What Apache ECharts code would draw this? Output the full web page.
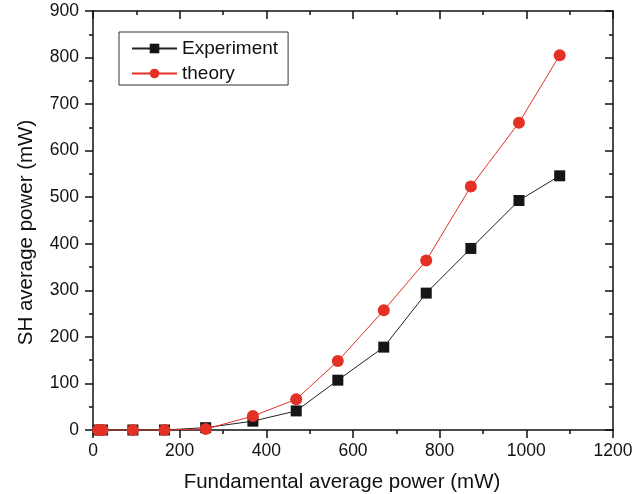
<!DOCTYPE html>
<html>
<head>
<meta charset="utf-8">
<script src="https://cdn.jsdelivr.net/npm/echarts@6/dist/echarts.min.js"></script>
<style>
html,body{margin:0;padding:0;background:#fff}
#chart{width:644px;height:494px}
</style>
</head>
<body>
<div id="chart"></div>
<script>
var powerIn = [12, 22, 92, 165, 260, 369, 469, 565, 671, 769, 872, 983, 1077]
var experiment = [0, 0, 0, 0, 5, 19, 41, 107, 178, 294, 390, 493, 546]
var theory = [0, 0, 0, 0, 2, 30, 66, 148, 257, 364, 523, 660, 805]
var fnt = 'Liberation Sans, Arial, sans-serif'

function pairs(xs, ys){
    var out = []
    for(var i = 0; i < xs.length; i++){
        out.push([xs[i], ys[i]])
    }
    return out
}

var chart = echarts.init(document.getElementById('chart'))

function axisBase(pos, inside, labels){
    return {
        type:'value',
        position:pos,
        axisLine:{show:true, onZero:false, lineStyle:{color:'#111', width:1.5}},
        axisTick:{show:true, inside:inside, length:8, lineStyle:{color:'#111', width:1.5}},
        minorTick:{show:true, splitNumber:2, length:4, lineStyle:{color:'#111', width:1.5}},
        axisLabel:{show:labels, color:'#111', fontFamily:fnt, fontSize:17.5, margin:12,
            formatter:function(v){ return String(v) }},
        splitLine:{show:false}
    }
}

var xb = axisBase('bottom', false, true)
xb.min = 0; xb.max = 1200; xb.interval = 200
xb.name = 'Fundamental average power (mW)'
xb.nameLocation = 'middle'
xb.nameGap = 42
xb.nameTextStyle = {color:'#111', fontFamily:fnt, fontSize:20.5, padding:[0, 22, 0, 0]}
var xt = axisBase('top', true, false)
xt.min = 0; xt.max = 1200; xt.interval = 200

var yl = axisBase('left', false, true)
yl.min = 0; yl.max = 900; yl.interval = 100
yl.axisLabel.margin = 14
yl.name = 'SH average power (mW)'
yl.nameLocation = 'middle'
yl.nameGap = 56
yl.nameTextStyle = {color:'#111', fontFamily:fnt, fontSize:20.5, padding:[0, 24, 0, 0]}
var yr = axisBase('right', true, false)
yr.min = 0; yr.max = 900; yr.interval = 100

chart.setOption({
    animation:false,
    grid:{left:93, right:31, top:11, bottom:64, outerBoundsMode:'none', containLabel:false},
    legend:{
        orient:'vertical',
        left:119,
        top:32,
        padding:[7, 10, 2, 12],
        itemWidth:45,
        itemHeight:12,
        itemGap:6,
        borderColor:'#333',
        borderWidth:1,
        textStyle:{color:'#111', fontFamily:fnt, fontSize:19},
        data:['Experiment', 'theory']
    },
    xAxis:[xb, xt],
    yAxis:[yl, yr],
    series:[{
        name:'Experiment',
        type:'line',
        data:pairs(powerIn, experiment),
        symbol:'rect',
        symbolSize:11,
        itemStyle:{color:'#151515'},
        lineStyle:{color:'#222', width:1}
    },{
        name:'theory',
        type:'line',
        data:pairs(powerIn, theory),
        symbol:'circle',
        symbolSize:12,
        itemStyle:{color:'#e33126'},
        lineStyle:{color:'#e33126', width:1}
    }]
})
</script>
</body>
</html>
